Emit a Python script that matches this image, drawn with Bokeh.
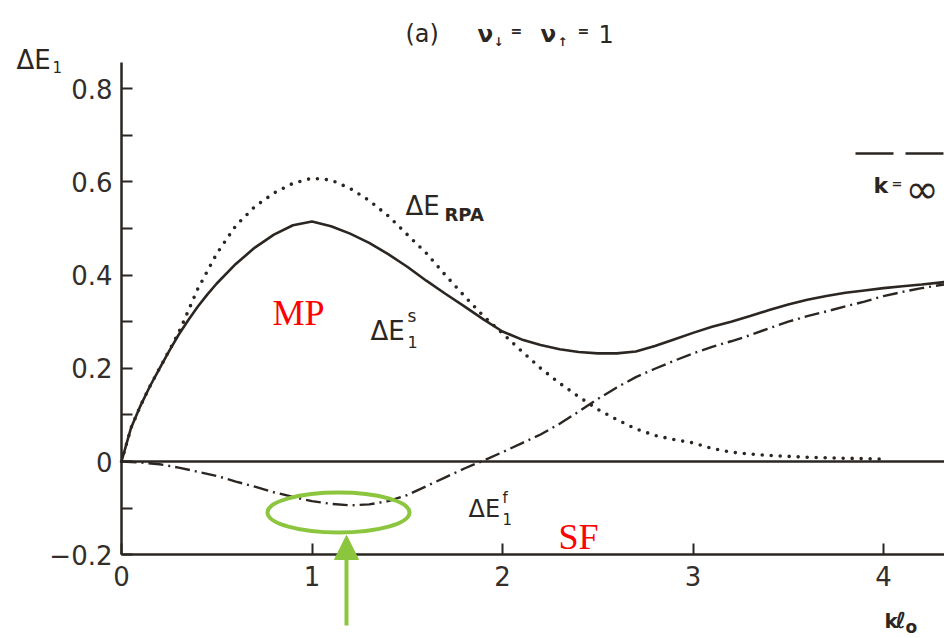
from bokeh.plotting import figure
from bokeh.models import Range1d, FixedTicker, Label, Arrow, NormalHead
from bokeh.embed import file_html
from bokeh.resources import INLINE

# ---- curves: energy gap contributions vs k*l0 ----
k_s = [0.0, 0.05, 0.1, 0.15, 0.2, 0.25, 0.3, 0.35, 0.4, 0.45, 0.5, 0.6, 0.7, 0.8, 0.9,
       1.0, 1.1, 1.2, 1.3, 1.4, 1.5, 1.6, 1.7, 1.8, 1.9, 2.0, 2.1, 2.2, 2.3, 2.4, 2.5,
       2.6, 2.7, 2.8, 2.9, 3.0, 3.1, 3.2, 3.3, 3.4, 3.5, 3.6, 3.7, 3.8, 3.9, 4.0, 4.1,
       4.2, 4.32]
dE_s = [0.0, 0.072, 0.12, 0.162, 0.2, 0.237, 0.272, 0.303, 0.332, 0.358, 0.382, 0.424,
        0.459, 0.487, 0.507, 0.515, 0.505, 0.489, 0.469, 0.445, 0.418, 0.388, 0.36,
        0.333, 0.305, 0.279, 0.262, 0.25, 0.241, 0.235, 0.232, 0.232, 0.236, 0.248,
        0.262, 0.276, 0.289, 0.3, 0.312, 0.325, 0.337, 0.347, 0.355, 0.362, 0.367,
        0.372, 0.376, 0.38, 0.385]

k_rpa = [0.0, 0.05, 0.1, 0.15, 0.2, 0.25, 0.3, 0.4, 0.5, 0.6, 0.7, 0.8, 0.9, 1.0, 1.1,
         1.2, 1.3, 1.4, 1.5, 1.6, 1.7, 1.8, 1.9, 2.0, 2.1, 2.2, 2.3, 2.4, 2.5, 2.6, 2.7,
         2.8, 2.9, 3.0, 3.1, 3.2, 3.3, 3.4, 3.5, 3.6, 3.8, 4.0]
dE_rpa = [0.0, 0.072, 0.12, 0.162, 0.2, 0.238, 0.276, 0.37, 0.446, 0.506, 0.547,
          0.576, 0.597, 0.608, 0.604, 0.586, 0.56, 0.527, 0.487, 0.447, 0.4, 0.355,
          0.312, 0.275, 0.237, 0.2, 0.168, 0.139, 0.112, 0.09, 0.07, 0.056, 0.047,
          0.04, 0.028, 0.02, 0.016, 0.013, 0.011, 0.009, 0.007, 0.005]

k_f = [0.0, 0.1, 0.2, 0.3, 0.4, 0.5, 0.6, 0.7, 0.8, 0.9, 1.0, 1.1, 1.2, 1.3, 1.4, 1.5,
       1.6, 1.7, 1.8, 1.9, 2.0, 2.1, 2.2, 2.3, 2.4, 2.5, 2.6, 2.7, 2.8, 2.9, 3.0, 3.1,
       3.2, 3.3, 3.4, 3.5, 3.6, 3.7, 3.8, 3.9, 4.0, 4.1, 4.2, 4.32]
dE_f = [0.0, -0.002, -0.006, -0.013, -0.022, -0.031, -0.043, -0.054, -0.066, -0.076,
        -0.085, -0.091, -0.094, -0.092, -0.085, -0.072, -0.053, -0.034, -0.015, 0.002,
        0.02, 0.039, 0.058, 0.081, 0.107, 0.134, 0.159, 0.181, 0.199, 0.216, 0.232,
        0.246, 0.258, 0.271, 0.286, 0.3, 0.312, 0.322, 0.333, 0.343, 0.355, 0.364,
        0.372, 0.38]

# ---- axis ticks ----
x_ticks = [0, 1, 2, 3, 4]
x_tick_labels = ["0", "1", "2", "3", "4"]
y_ticks = [-0.2, 0.0, 0.2, 0.4, 0.6, 0.8]
y_tick_labels = ["\u22120.2", "0", "0.2", "0.4", "0.6", "0.8"]
y_minor_ticks = [-0.1, 0.1, 0.3, 0.5, 0.7]

INK = "#2b2622"
GREEN = "#8cc63f"
RED = "#ff0000"
FONT = "DejaVu Sans"

W, H = 944, 638
# the plotting frame fills the whole canvas; axes are pinned at x=0 and y=-0.2
SX, SY = 190.5, 466.0          # pixels per data unit
X0 = -121 / SX                 # data x at the left canvas edge
Y1 = 461 / SY                  # data y at the top canvas edge
X_END = X0 + W / SX
Y_AXIS_TOP = 0.856

p = figure(width=W, height=H,
           x_range=Range1d(X0, X_END), y_range=Range1d(Y1 - H / SY, Y1),
           output_backend="svg", toolbar_location=None,
           min_border=0, min_border_left=0, min_border_right=0,
           min_border_top=0, min_border_bottom=0)
p.outline_line_color = None
p.grid.visible = False
p.background_fill_color = "white"
p.border_fill_color = "white"

for ax in (p.xaxis[0], p.yaxis[0]):
    ax.axis_line_color = INK
    ax.axis_line_width = 2.5
    ax.major_tick_line_color = INK
    ax.major_tick_line_width = 2
    ax.major_tick_in = 11
    ax.major_tick_out = 0
    ax.minor_tick_line_color = INK
    ax.minor_tick_line_width = 2
    ax.minor_tick_in = 11
    ax.minor_tick_out = 0
    ax.major_label_text_font = FONT
    ax.major_label_text_font_size = "26px"
    ax.major_label_text_color = "#332e2a"

xa = p.xaxis[0]
xa.fixed_location = -0.2
xa.bounds = (0, X_END)
xa.ticker = FixedTicker(ticks=x_ticks)
xa.major_label_overrides = dict(zip(x_ticks, x_tick_labels))
xa.major_label_standoff = 11
xa.minor_tick_line_color = None

ya = p.yaxis[0]
ya.fixed_location = 0
ya.bounds = (-0.2, Y_AXIS_TOP)
ya.ticker = FixedTicker(ticks=y_ticks, minor_ticks=y_minor_ticks)
ya.major_label_overrides = dict(zip(y_ticks, y_tick_labels))
ya.major_label_standoff = 9

# zero baseline
p.line([0, X_END], [0, 0], line_color=INK, line_width=2.5)

# curves
p.line(k_s, dE_s, line_color=INK, line_width=2.6)
p.line(k_rpa, dE_rpa, line_color=INK, line_width=3.6, line_dash="0 9", line_cap="round")
p.line(k_f, dE_f, line_color=INK, line_width=2.4, line_dash="15 5 2 5")


def at(px, py):
    """canvas pixel (from top-left) -> data coordinates"""
    return X0 + px / SX, Y1 - py / SY


def lab(px, py, text, size, font=FONT, color=INK, style="normal"):
    x, y = at(px, py)
    p.add_layout(Label(x=x, y=y, text=text, text_font=font,
                       text_font_size=f"{size}px", text_color=color,
                       text_font_style=style, text_baseline="alphabetic",
                       text_align="left"))


# k = infinity key line
kx0, ky = at(855, 153)
p.line([kx0, X_END], [ky, ky], line_color=INK, line_width=2.5, line_dash="38 12")

# title
lab(405, 33, "(a)", 24)
lab(477, 33, "\u03bd", 23, style="bold")
lab(493, 41, "\u2193", 12, style="bold")
lab(510, 30, "=", 14, style="bold")
lab(540, 33, "\u03bd", 23, style="bold")
lab(557, 41, "\u2191", 12, style="bold")
lab(577, 30, "=", 14, style="bold")
lab(598, 33, "1", 24)

# y label
lab(16, 59, "\u0394E", 26)
lab(52, 66, "1", 15)

# curve labels
lab(405, 205, "\u0394E", 26)
lab(444, 214, "RPA", 18, style="bold")
lab(370, 330, "\u0394E", 26)
lab(407, 315, "s", 17)
lab(407, 341, "1", 16)
lab(468, 508, "\u0394E", 24)
lab(502, 497, "f", 15)
lab(502, 518, "1", 15)

# k = infinity
lab(873, 185, "k", 22, style="bold")
lab(891, 183, "=", 13, style="bold")
lab(905, 188, "\u221e", 40)

# x label
lab(884, 620, "k", 20, style="bold")
lab(895, 620, "\u2113", 22, style="bold")
lab(905, 626, "o", 17, style="bold")

# highlights
lab(272, 312, "MP", 36, font="Liberation Serif", color=RED)
lab(558, 536, "SF", 36, font="Liberation Serif", color=RED)

ex, ey = at(338, 512)
p.ellipse(x=[ex], y=[ey], width=142 / SX, height=40 / SY,
          fill_color=None, line_color=GREEN, line_width=4)
ax0, ay0 = at(346, 625)
ax1, ay1 = at(346, 535)
p.add_layout(Arrow(end=NormalHead(size=24, fill_color=GREEN, line_color=GREEN),
                   x_start=ax0, y_start=ay0, x_end=ax1, y_end=ay1,
                   line_color=GREEN, line_width=4))

open("out.html", "w").write(file_html(p, INLINE))
